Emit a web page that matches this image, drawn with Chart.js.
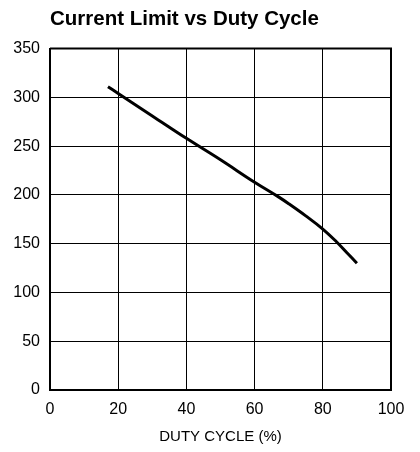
<!DOCTYPE html>
<html>
<head>
<meta charset="utf-8">
<script src="https://cdn.jsdelivr.net/npm/chart.js@4"></script>
<style>
  html, body { margin: 0; padding: 0; background: #fff; }
  #wrap { width: 420px; height: 452px; }
</style>
</head>
<body>
<div id="wrap"><canvas id="chart" width="420" height="452"></canvas></div>
<script>
// ---- data ----
const dutyCycle = [17, 20, 30, 40, 50, 60, 67, 70, 75, 80, 84, 87, 90];
const currentLimit = [311, 304, 281, 258, 236, 213, 198, 191, 178.5, 165, 152, 141, 130];
const xTicks = [0, 20, 40, 60, 80, 100];
const yTicks = [0, 50, 100, 150, 200, 250, 300, 350];

const chartTitle = 'Current Limit vs Duty Cycle';
const xTitle = 'DUTY CYCLE (%)';

const points = dutyCycle.map((x, i) => ({ x, y: currentLimit[i] }));
const tickFont = { family: '"Liberation Sans", Arial, sans-serif', size: 16 };

new Chart(document.getElementById('chart'), {
  type: 'line',
  data: {
    datasets: [{
      data: points,
      borderColor: '#000',
      borderWidth: 3,
      pointRadius: 0,
      tension: 0.4,
      fill: false,
    }],
  },
  options: {
    responsive: false,
    animation: false,
    layout: { padding: { left: 0, right: 29, top: 0, bottom: 6 } },
    plugins: {
      legend: { display: false },
      tooltip: { enabled: false },
      title: {
        display: true,
        text: chartTitle,
        align: 'start',
        fullSize: false,
        color: '#000',
        font: { family: '"Liberation Sans Narrow", "Arial Narrow", "Liberation Sans", sans-serif', size: 20.5, weight: 'bold' },
        padding: { top: 7, bottom: 17 },
      },
    },
    scales: {
      x: {
        type: 'linear',
        min: 0,
        max: 100,
        afterBuildTicks: (s) => { s.ticks = xTicks.map((v) => ({ value: v })); },
        afterFit: (s) => { s.height = 56; },
        ticks: { color: '#000', font: tickFont, padding: 10, maxRotation: 0 },
        grid: { color: '#000', lineWidth: 1, drawTicks: false },
        border: { color: '#000', width: 2 },
        title: {
          display: true,
          text: xTitle,
          color: '#000',
          font: { family: '"Liberation Sans", Arial, sans-serif', size: 15 },
          padding: { top: 4, bottom: 0 },
        },
      },
      y: {
        type: 'linear',
        min: 0,
        max: 350,
        afterBuildTicks: (s) => { s.ticks = yTicks.map((v) => ({ value: v })); },
        afterFit: (s) => { s.width = 50; },
        ticks: { color: '#000', font: tickFont, padding: 10 },
        grid: { color: '#000', lineWidth: 1, drawTicks: false },
        border: { color: '#000', width: 2 },
      },
    },
  },
  plugins: [{
    // right and top frame lines
    id: 'frame',
    afterDraw(chart) {
      const { ctx, chartArea: a } = chart;
      ctx.save();
      ctx.strokeStyle = '#000';
      ctx.lineWidth = 2;
      ctx.beginPath();
      ctx.moveTo(a.left, a.top);
      ctx.lineTo(a.right, a.top);
      ctx.lineTo(a.right, a.bottom);
      ctx.stroke();
      ctx.restore();
    },
  }],
});
</script>
</body>
</html>
